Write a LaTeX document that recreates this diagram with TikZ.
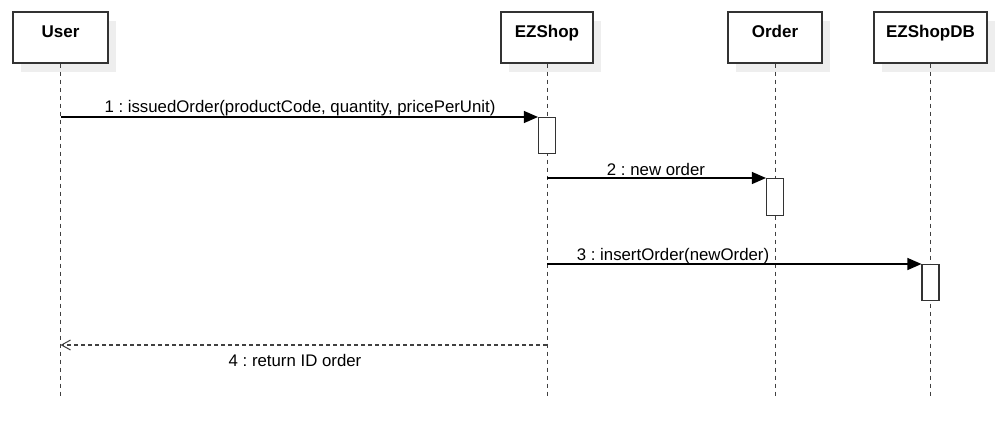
\documentclass[tikz,border=0pt]{standalone}
\usepackage{fontspec}
\setmainfont{Liberation Sans}
\usetikzlibrary{arrows.meta,shadows}
\definecolor{boxline}{HTML}{333333}
\definecolor{shade}{HTML}{EEEEEE}
\frenchspacing
\begin{document}
\begin{tikzpicture}[x=1pt,y=-1pt,
  obj/.style={draw=boxline, line width=1.3pt, fill=white, minimum height=51pt,
    inner sep=0pt, font=\fontsize{17}{20}\selectfont\bfseries\frenchspacing,
    text height=12pt, text depth=12pt,
    drop shadow={shadow xshift=8pt, shadow yshift=-9pt, fill=shade, opacity=1}},
  act/.style={draw=boxline, line width=1.1pt, fill=white, minimum width=17pt,
    inner sep=0pt},
  life/.style={draw=black!75, line width=1pt, dash pattern=on 4pt off 4pt},
  msg/.style={draw=black, line width=1.1pt, -{Triangle[length=14pt,width=12pt]}},
  ret/.style={draw=black!75, line width=1.1pt, dash pattern=on 4pt off 3pt,
    -{Straight Barb[length=9pt,width=10pt,line width=1pt]}},
  lbl/.style={font=\fontsize{16.8}{20}\selectfont\frenchspacing, inner sep=0pt, anchor=base}
]
\useasboundingbox (0,0) rectangle (1000,420);

\node[obj, minimum width=95pt] (user) at (60.5,37.5) {User};
\node[obj, minimum width=92pt] (ezshop) at (547,37.5) {EZShop};
\node[obj, minimum width=94pt] (order) at (775,37.5) {Order};
\node[obj, minimum width=113pt] (db) at (930.5,37.5) {EZShopDB};

\coordinate (uend) at (60.5,396);
\coordinate (eend) at (547,396);
\coordinate (oend) at (775,396);
\coordinate (dend) at (930.5,396);
\draw[life] (user.south) -- (uend);
\draw[life] (ezshop.south) -- (eend);
\draw[life] (order.south) -- (oend);
\draw[life] (db.south) -- (dend);

\node[act, minimum height=36pt, anchor=north] (a1) at (547,117) {};
\node[act, minimum height=37pt, anchor=north] (a2) at (775,178) {};
\node[act, minimum height=36pt, anchor=north] (a3) at (930.5,264) {};

\coordinate (m1s) at (60.5,117);
\coordinate (m2s) at (547,178);
\coordinate (m3s) at (547,264);
\coordinate (m4s) at (547,345);
\coordinate (m4e) at (60.5,345);

\draw[msg] (m1s) -- (a1.north west);
\draw[msg] (m2s) -- (a2.north west);
\draw[msg] (m3s) -- (a3.north west);
\draw[ret] (m4s) -- (m4e);

\node[lbl] (l1) at (300,112) {1 : issuedOrder(productCode, quantity, pricePerUnit)};
\node[lbl] (l2) at (656,175) {2 : new order};
\node[lbl] (l3) at (673,260) {3 : insertOrder(newOrder)};
\node[lbl] (l4) at (295,366) {4 : return ID order};
\end{tikzpicture}
\end{document}
